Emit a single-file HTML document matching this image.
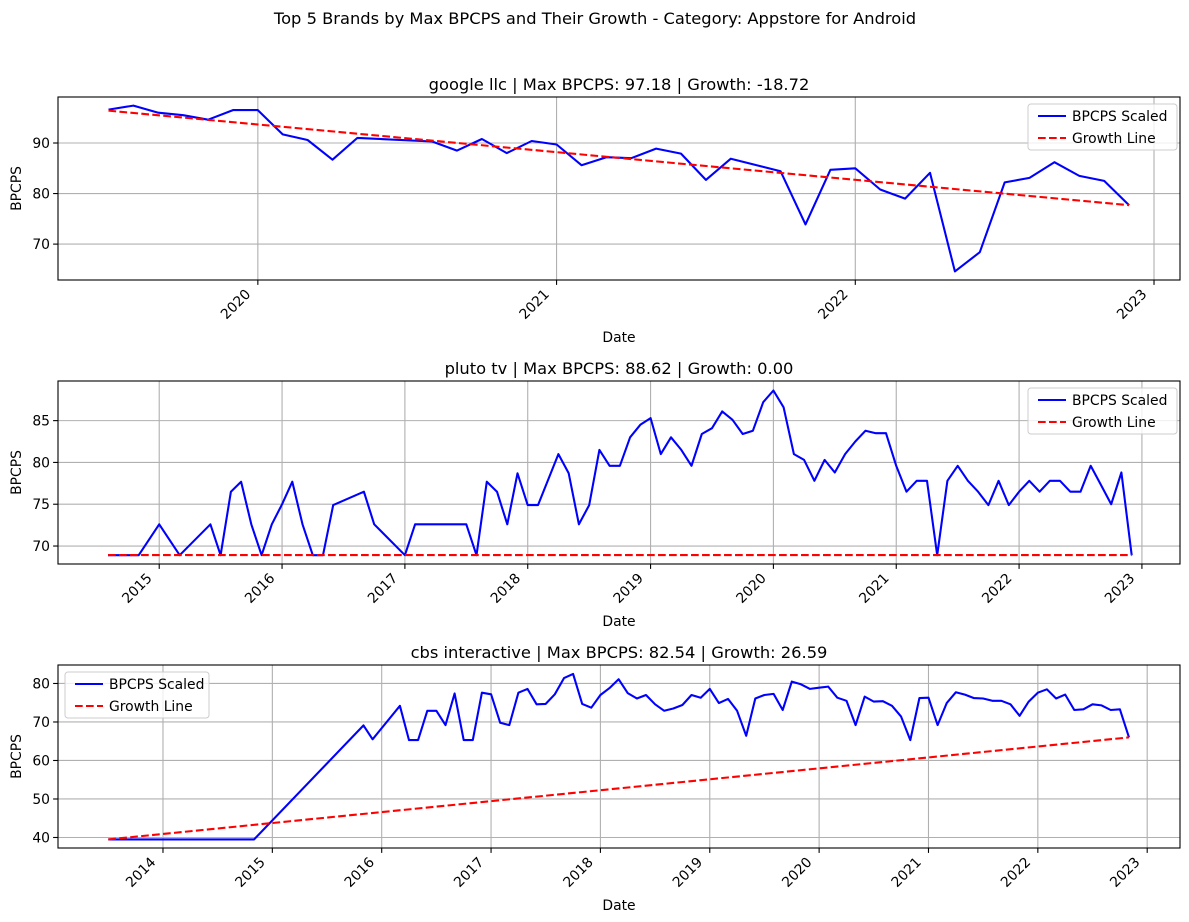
<!DOCTYPE html>
<html><head><meta charset="utf-8">
<style>
body{margin:0;background:#fff;}
svg{display:block;font-family:"DejaVu Sans","Liberation Sans",sans-serif;}
</style></head>
<body>
<svg id="fig" width="1189" height="922" viewBox="0 0 1189 922" xmlns="http://www.w3.org/2000/svg">
<rect width="1189" height="922" fill="#fff"/>
<text x="595" y="24" text-anchor="middle" font-size="16.3">Top 5 Brands by Max BPCPS and Their Growth - Category: Appstore for Android</text>
</svg>
<script>
// ---- Chart 1: google llc ----
const c1Dates = ["2019-06","2019-07","2019-08","2019-09","2019-10","2019-11","2019-12","2020-01","2020-02","2020-03","2020-04","2020-07","2020-08","2020-09","2020-10","2020-11","2020-12","2021-01","2021-02","2021-03","2021-04","2021-05","2021-06","2021-07","2021-09","2021-10","2021-11","2021-12","2022-01","2022-02","2022-03","2022-04","2022-05","2022-06","2022-07","2022-08","2022-09","2022-10","2022-11"];
const c1Values = [96.6,97.4,96.0,95.5,94.6,96.5,96.5,91.7,90.6,86.7,91.0,90.3,88.5,90.8,88.0,90.4,89.7,85.6,87.2,87.0,88.9,87.9,82.7,86.9,84.4,73.9,84.7,85.0,80.8,79.0,84.1,64.6,68.4,82.2,83.1,86.2,83.5,82.5,77.7];
const c1Growth = [96.4,77.7];
const c1YTicks = [70,80,90];
const c1XTicks = [2020,2021,2022,2023];

// ---- Chart 2: pluto tv ----
const c2Dates = ["2014-07","2014-10","2014-12","2015-02","2015-05","2015-06","2015-07","2015-08","2015-09","2015-10","2015-11","2015-12","2016-01","2016-02","2016-03","2016-04","2016-05","2016-08","2016-09","2016-12","2017-01","2017-06","2017-07","2017-08","2017-09","2017-10","2017-11","2017-12","2018-01","2018-03","2018-04","2018-05","2018-06","2018-07","2018-08","2018-09","2018-10","2018-11","2018-12","2019-01","2019-02","2019-03","2019-04","2019-05","2019-06","2019-07","2019-08","2019-09","2019-10","2019-11","2019-12","2020-01","2020-02","2020-03","2020-04","2020-05","2020-06","2020-07","2020-08","2020-09","2020-10","2020-11","2020-12","2021-01","2021-02","2021-03","2021-04","2021-05","2021-06","2021-07","2021-08","2021-09","2021-10","2021-11","2021-12","2022-01","2022-02","2022-03","2022-04","2022-05","2022-06","2022-07","2022-08","2022-09","2022-10","2022-11"];
const c2Values = [68.9,68.9,72.6,68.9,72.6,68.9,76.5,77.7,72.6,68.9,72.6,75.0,77.7,72.6,68.9,68.9,74.9,76.5,72.6,68.9,72.6,72.6,68.9,77.7,76.5,72.6,78.7,74.9,74.9,81.0,78.7,72.6,74.9,81.5,79.6,79.6,83.0,84.5,85.3,81.0,83.0,81.5,79.6,83.4,84.1,86.1,85.1,83.4,83.8,87.2,88.6,86.6,81.0,80.3,77.8,80.3,78.8,81.0,82.5,83.8,83.5,83.5,79.6,76.5,77.8,77.8,68.9,77.8,79.6,77.8,76.5,74.9,77.8,74.9,76.5,77.8,76.5,77.8,77.8,76.5,76.5,79.6,77.3,75.0,78.8,68.9];
const c2Growth = [68.92,68.92];
const c2YTicks = [70,75,80,85];
const c2XTicks = [2015,2016,2017,2018,2019,2020,2021,2022,2023];

// ---- Chart 3: cbs interactive ----
const c3Dates = ["2013-06","2014-10","2015-10","2015-11","2016-02","2016-03","2016-04","2016-05","2016-06","2016-07","2016-08","2016-09","2016-10","2016-11","2016-12","2017-01","2017-02","2017-03","2017-04","2017-05","2017-06","2017-07","2017-08","2017-09","2017-10","2017-11","2017-12","2018-01","2018-02","2018-03","2018-04","2018-05","2018-06","2018-07","2018-08","2018-09","2018-10","2018-11","2018-12","2019-01","2019-02","2019-03","2019-04","2019-05","2019-06","2019-07","2019-08","2019-09","2019-10","2019-11","2019-12","2020-01","2020-02","2020-03","2020-04","2020-05","2020-06","2020-07","2020-08","2020-09","2020-10","2020-11","2020-12","2021-01","2021-02","2021-03","2021-04","2021-05","2021-06","2021-07","2021-08","2021-09","2021-10","2021-11","2021-12","2022-01","2022-02","2022-03","2022-04","2022-05","2022-06","2022-07","2022-08","2022-09","2022-10"];
const c3Values = [39.5,39.5,69.1,65.5,74.2,65.3,65.3,72.9,72.9,69.2,77.4,65.3,65.3,77.6,77.2,69.8,69.2,77.6,78.6,74.6,74.7,77.2,81.4,82.5,74.7,73.7,77.0,78.8,81.1,77.5,76.1,77.0,74.6,72.9,73.5,74.4,77.0,76.3,78.6,74.9,76.0,72.9,66.4,76.1,77.0,77.3,73.1,80.5,79.8,78.6,78.9,79.2,76.3,75.5,69.2,76.6,75.3,75.4,74.2,71.4,65.3,76.2,76.3,69.2,74.9,77.7,77.1,76.2,76.1,75.5,75.5,74.6,71.6,75.3,77.6,78.5,76.1,77.1,73.1,73.3,74.6,74.3,73.1,73.3,66.0];
const c3Growth = [39.5,66.0];
const c3YTicks = [40,50,60,70,80];
const c3XTicks = [2014,2015,2016,2017,2018,2019,2020,2021,2022,2023];

const NS = "http://www.w3.org/2000/svg";
const svg = document.getElementById('fig');
function mk(tag, attrs, parent){
  const e = document.createElementNS(NS, tag);
  for (const k in attrs) e.setAttribute(k, attrs[k]);
  (parent||svg).appendChild(e);
  return e;
}
function toYear(d){ const p=d.split('-'); return +p[0] + (+p[1])/12; }

function drawChart(cfg){
  const L=58,R=1180,T=cfg.top,B=cfg.top+183;
  const xs = v => L + (v-cfg.x0)/(cfg.x1-cfg.x0)*(R-L);
  const ys = v => B - (v-cfg.y0)/(cfg.y1-cfg.y0)*(B-T);
  const g = mk('g',{});
  
  
  cfg.yTicks.forEach(t=>{
    const l = mk('line',{x1:L,x2:R,y1:ys(t),y2:ys(t),stroke:'#b0b0b0','stroke-width':1.1},g);
    
    
  });
  cfg.xTicks.forEach(t=>{
    const l = mk('line',{x1:xs(t),x2:xs(t),y1:T,y2:B,stroke:'#b0b0b0','stroke-width':1.1},g);
    
    
  });
  const pts = cfg.dates.map((d,i)=> xs(toYear(d)).toFixed(1)+','+ys(cfg.values[i]).toFixed(1)).join(' ');
  const line = mk('polyline',{points:pts,fill:'none',stroke:'#0000ff','stroke-width':2.08,'stroke-linejoin':'round'},g);
  
  
  const gx0 = xs(toYear(cfg.dates[0])), gx1 = xs(toYear(cfg.dates[cfg.dates.length-1]));
  const gl = mk('line',{x1:gx0,x2:gx1,y1:ys(cfg.growth[0]),y2:ys(cfg.growth[1]),stroke:'#ff0000','stroke-width':2.08,'stroke-dasharray':'7.7,3.3'},g);
  
  
  const fr = mk('rect',{x:L,y:T,width:R-L,height:B-T,fill:'none',stroke:'#000','stroke-width':1.1},g);
  
  
  cfg.yTicks.forEach(t=>{
    mk('line',{x1:L-4.9,x2:L,y1:ys(t),y2:ys(t),stroke:'#000','stroke-width':1.1},g);
    const tx = mk('text',{x:L-8,y:ys(t)+5,'text-anchor':'end','font-size':13.9},g);
    tx.textContent = t;
    
    
  });
  cfg.xTicks.forEach(t=>{
    const x = xs(t);
    mk('line',{x1:x,x2:x,y1:B,y2:B+4.9,stroke:'#000','stroke-width':1.1},g);
    const ax = x-6.5, ay = B+15;
    const tx = mk('text',{x:ax,y:ay,'text-anchor':'end','font-size':13.9,transform:`rotate(-45 ${ax} ${ay})`},g);
    tx.textContent = t;
    
    
  });
  const ti = mk('text',{x:(L+R)/2,y:T-7,'text-anchor':'middle','font-size':16.3},g);
  ti.textContent = cfg.title;
  
  
  const xl = mk('text',{x:(L+R)/2,y:B+62,'text-anchor':'middle','font-size':13.9},g);
  xl.textContent = 'Date';
  
  
  const yc=(T+B)/2;
  const yl = mk('text',{x:21,y:yc,'text-anchor':'middle','font-size':13.9,transform:`rotate(-90 21 ${yc})`},g);
  yl.textContent = 'BPCPS';
  
  
  const lx = cfg.legendX, ly = T+7;
  const lg = mk('g',{},g);
  
  
  mk('rect',{x:lx,y:ly,width:cfg.legendW,height:46,rx:3,fill:'#fff','fill-opacity':0.8,stroke:'#cccccc','stroke-width':1},lg);
  mk('line',{x1:lx+10,x2:lx+38,y1:ly+12,y2:ly+12,stroke:'#0000ff','stroke-width':2.08},lg);
  const t1 = mk('text',{x:lx+44,y:ly+17,'font-size':13.9},lg);
  t1.textContent='BPCPS Scaled';
  
  
  mk('line',{x1:lx+10,x2:lx+38,y1:ly+34,y2:ly+34,stroke:'#ff0000','stroke-width':2.08,'stroke-dasharray':'7.7,3.3'},lg);
  const t2 = mk('text',{x:lx+44,y:ly+39,'font-size':13.9},lg);
  t2.textContent='Growth Line';
  
  
}

drawChart({name:'chart-google-llc',top:97,x0:2019.331,x1:2023.087,y0:62.9,y1:99.1,
  dates:c1Dates,values:c1Values,growth:c1Growth,yTicks:c1YTicks,xTicks:c1XTicks,
  title:'google llc | Max BPCPS: 97.18 | Growth: -18.72',legendX:1028,legendW:149});
drawChart({name:'chart-pluto-tv',top:381,x0:2014.176,x1:2023.31,y0:67.85,y1:89.74,
  dates:c2Dates,values:c2Values,growth:c2Growth,yTicks:c2YTicks,xTicks:c2XTicks,
  title:'pluto tv | Max BPCPS: 88.62 | Growth: 0.00',legendX:1028,legendW:149});
drawChart({name:'chart-cbs-interactive',top:665,x0:2013.04,x1:2023.30,y0:37.27,y1:84.8,
  dates:c3Dates,values:c3Values,growth:c3Growth,yTicks:c3YTicks,xTicks:c3XTicks,
  title:'cbs interactive | Max BPCPS: 82.54 | Growth: 26.59',legendX:65,legendW:144});
</script>
</body></html>
